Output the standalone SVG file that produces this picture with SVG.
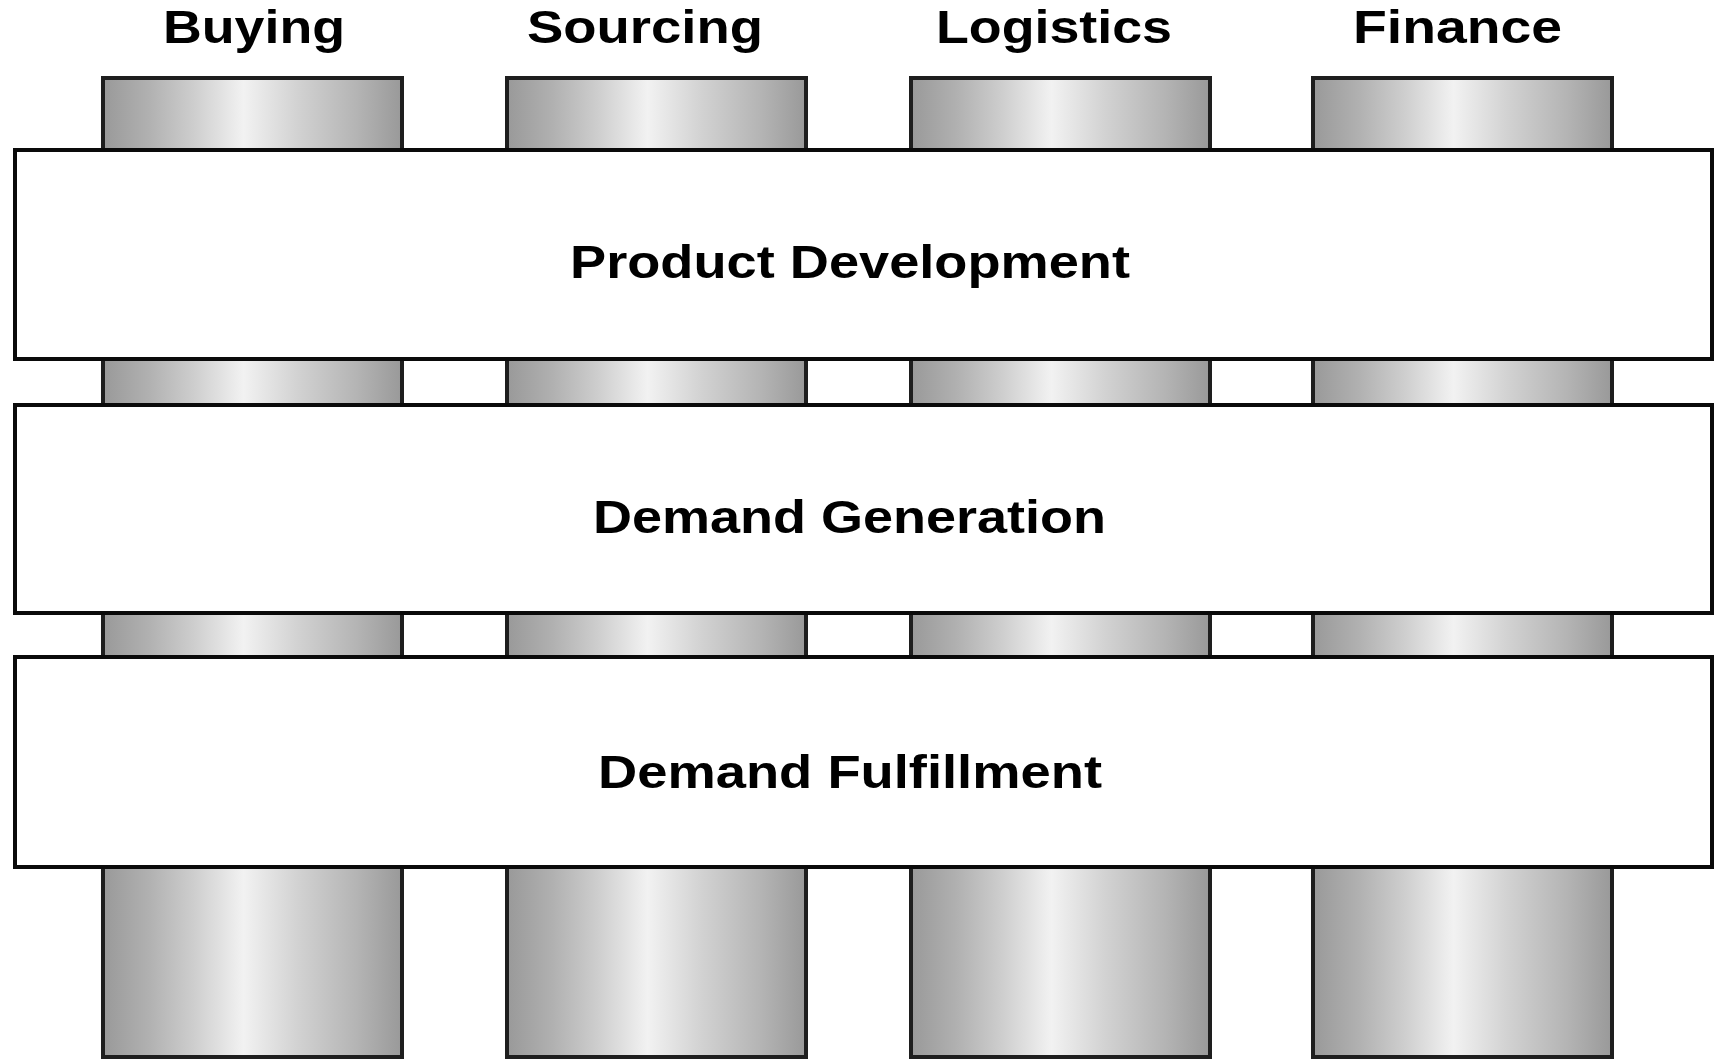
<svg xmlns="http://www.w3.org/2000/svg" width="1721" height="1059" viewBox="0 0 1721 1059">
  <defs>
    <linearGradient id="metal" x1="0" y1="0" x2="1" y2="0">
      <stop offset="0" stop-color="#999999"/>
      <stop offset="0.15" stop-color="#b0b0b0"/>
      <stop offset="0.3" stop-color="#cdcdcd"/>
      <stop offset="0.47" stop-color="#f2f2f2"/>
      <stop offset="0.65" stop-color="#d2d2d2"/>
      <stop offset="0.85" stop-color="#b4b4b4"/>
      <stop offset="1" stop-color="#999999"/>
    </linearGradient>
  </defs>
  <style>
    .pillar { fill: url(#metal); stroke: #1e1e1e; stroke-width: 4; }
    .band { fill: #ffffff; stroke: #0a0a0a; stroke-width: 4; }
    .lbl { font-family: "Liberation Sans", Arial, sans-serif; font-weight: bold; font-size: 46px; fill: #000000; }
  </style>
  <rect x="0" y="0" width="1721" height="1059" fill="#ffffff"/>
  <g id="pillar-buying">
    <rect class="pillar" x="103" y="78" width="299" height="979"/>
    <text class="lbl" x="163" y="43" textLength="182" lengthAdjust="spacingAndGlyphs">Buying</text>
  </g>
  <g id="pillar-sourcing">
    <rect class="pillar" x="507" y="78" width="299" height="979"/>
    <text class="lbl" x="527" y="43" textLength="236" lengthAdjust="spacingAndGlyphs">Sourcing</text>
  </g>
  <g id="pillar-logistics">
    <rect class="pillar" x="911" y="78" width="299" height="979"/>
    <text class="lbl" x="936" y="43" textLength="236" lengthAdjust="spacingAndGlyphs">Logistics</text>
  </g>
  <g id="pillar-finance">
    <rect class="pillar" x="1313" y="78" width="299" height="979"/>
    <text class="lbl" x="1353" y="43" textLength="209" lengthAdjust="spacingAndGlyphs">Finance</text>
  </g>
  <g id="band-product-development">
    <rect class="band" x="15" y="150" width="1697" height="209"/>
    <text class="lbl" x="570" y="278" textLength="560" lengthAdjust="spacingAndGlyphs">Product Development</text>
  </g>
  <g id="band-demand-generation">
    <rect class="band" x="15" y="405" width="1697" height="208"/>
    <text class="lbl" x="593" y="533" textLength="513" lengthAdjust="spacingAndGlyphs">Demand Generation</text>
  </g>
  <g id="band-demand-fulfillment">
    <rect class="band" x="15" y="657" width="1697" height="210"/>
    <text class="lbl" x="598" y="788" textLength="504" lengthAdjust="spacingAndGlyphs">Demand Fulfillment</text>
  </g>
  <g id="connectors"></g>
</svg>
